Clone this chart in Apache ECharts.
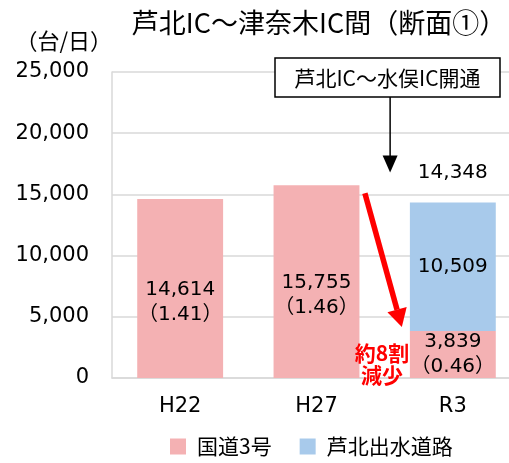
<!DOCTYPE html>
<html><head><meta charset="utf-8">
<script src="https://cdn.jsdelivr.net/npm/echarts@6/dist/echarts.min.js"></script>
<style>html,body{margin:0;padding:0;background:#fff;overflow:hidden;width:509px;height:463px}#c{width:521px;height:463px}</style>
</head><body><div id="c"></div>
<script>
const categories = ['H22', 'H27', 'R3'];
const route3 = [14614, 15755, 3839];
const route3Ratio = ['1.41', '1.46', '0.46'];
const ashikitaIzumi = [null, null, 10509];
const totals = [null, null, 14348];
const yTicks = [0, 5000, 10000, 15000, 20000, 25000];
const seriesNames = ['国道3号', '芦北出水道路'];

const FONT = '"DejaVu Sans", "Noto Sans CJK JP", sans-serif';
const CJK = '"Noto Sans CJK JP", sans-serif';
const fmt = v => v.toLocaleString('en-US');
const chart = echarts.init(document.getElementById('c'));

const labelShift = [14, 14, 0];
const route3Data = route3.map((v, i) => ({ value: v, label: { offset: [0, labelShift[i]] } }));

const option = {
  animation: false,
  textStyle: { fontFamily: FONT },
  title: {
    text: '芦北IC～津奈木IC間（断面①）',
    left: 314, top: 4, textAlign: 'center',
    textStyle: { fontSize: 27, fontWeight: 'normal', color: '#000', fontFamily: CJK }
  },
  grid: { left: 112, right: 0, top: 72, bottom: 85 },
  legend: {
    data: seriesNames, bottom: 1, left: 165,
    itemWidth: 16, itemHeight: 16, itemGap: 28,
    icon: 'rect',
    textStyle: { fontSize: 21, color: '#000', fontFamily: CJK, padding: [0, 0, 0, 6] }
  },
  xAxis: {
    type: 'category', data: categories,
    axisLine: { lineStyle: { color: '#d9d9d9', width: 1.5 } },
    axisTick: { show: false },
    axisLabel: { fontSize: 21, color: '#000', margin: 18, fontFamily: FONT }
  },
  yAxis: {
    type: 'value', min: yTicks[0], max: yTicks[yTicks.length - 1], interval: yTicks[1] - yTicks[0],
    name: '（台/日）', nameLocation: 'end', nameGap: 20,
    nameTextStyle: { fontSize: 22, color: '#000', align: 'right', fontFamily: CJK },
    axisLine: { show: true, lineStyle: { color: '#d9d9d9', width: 1.5 } },
    axisTick: { show: false },
    splitLine: { lineStyle: { color: '#d9d9d9', width: 1.5 } },
    axisLabel: { fontSize: 21, color: '#000', margin: 23, formatter: v => fmt(v), fontFamily: FONT }
  },
  series: [
    {
      name: seriesNames[0], type: 'bar', stack: 's', barWidth: '63%',
      data: route3Data,
      itemStyle: { color: '#F4B1B3' },
      label: {
        show: true, position: 'inside', fontSize: 20, color: '#000', lineHeight: 25, fontFamily: FONT,
        formatter: p => fmt(p.value) + '\n（' + route3Ratio[p.dataIndex] + '）'
      }
    },
    {
      name: seriesNames[1], type: 'bar', stack: 's', barWidth: '63%',
      data: ashikitaIzumi,
      itemStyle: { color: '#A8CAEB' },
      label: { show: true, position: 'inside', fontSize: 20, color: '#000', fontFamily: FONT, formatter: p => fmt(p.value) }
    },
    {
      name: 'total', type: 'scatter', data: totals, symbolSize: 0,
      itemStyle: { opacity: 1 },
      label: { show: true, position: 'top', distance: 20, fontSize: 20, color: '#000', opacity: 1, fontFamily: FONT, formatter: p => fmt(p.value) },
      tooltip: { show: false }
    }
  ]
};
chart.setOption(option);

// Annotations anchored to chart coordinates
const pH27Top = chart.convertToPixel({ gridIndex: 0 }, [1, route3[1]]);
const pR3Low = chart.convertToPixel({ gridIndex: 0 }, [2, route3[2]]);
const pR3Top = chart.convertToPixel({ gridIndex: 0 }, [2, totals[2]]);
const catW = pR3Low[0] - pH27Top[0];
const arrowStart = [pH27Top[0] + catW * 0.355, pH27Top[1] + 8];
const arrowEnd = [pR3Low[0] - catW * 0.374, pR3Low[1] - 4];
const ang = Math.atan2(arrowEnd[1] - arrowStart[1], arrowEnd[0] - arrowStart[0]);
const hl = 18, hw = 10;
const bx = arrowEnd[0] - hl * Math.cos(ang), by = arrowEnd[1] - hl * Math.sin(ang);
const nx = -Math.sin(ang), ny = Math.cos(ang);
const boxX = 275, boxY = 58, boxW = 225, boxH = 39;
const vx = pR3Low[0] - catW * 0.46;
const tipY = pR3Top[1] - 30;

chart.setOption({
  graphic: [
    { type: 'rect', shape: { x: boxX, y: boxY, width: boxW, height: boxH }, style: { fill: '#fff', stroke: '#000', lineWidth: 1.5 }, z: 100 },
    { type: 'text', x: boxX + boxW / 2, y: boxY + boxH / 2 + 1, style: { text: '芦北IC～水俣IC開通', fill: '#000', align: 'center', verticalAlign: 'middle', font: '21px ' + CJK }, z: 101 },
    { type: 'line', shape: { x1: vx, y1: boxY + boxH, x2: vx, y2: tipY - 14 }, style: { stroke: '#000', lineWidth: 1.5 }, z: 100 },
    { type: 'polygon', shape: { points: [[vx - 7.5, tipY - 17], [vx + 7.5, tipY - 17], [vx, tipY]] }, style: { fill: '#000' }, z: 100 },
    { type: 'line', shape: { x1: arrowStart[0], y1: arrowStart[1], x2: bx, y2: by }, style: { stroke: '#ff0000', lineWidth: 5.5 }, z: 100 },
    { type: 'polygon', shape: { points: [[arrowEnd[0], arrowEnd[1]], [bx + nx * hw, by + ny * hw], [bx - nx * hw, by - ny * hw]] }, style: { fill: '#ff0000' }, z: 100 },
    { type: 'text', x: pR3Low[0] - catW * 0.52, y: pR3Low[1] + 33, style: { text: '約8割\n減少', fill: '#ff0000', align: 'center', verticalAlign: 'middle', lineHeight: 22, font: 'bold 21px ' + CJK }, z: 101 }
  ]
});
</script></body></html>
